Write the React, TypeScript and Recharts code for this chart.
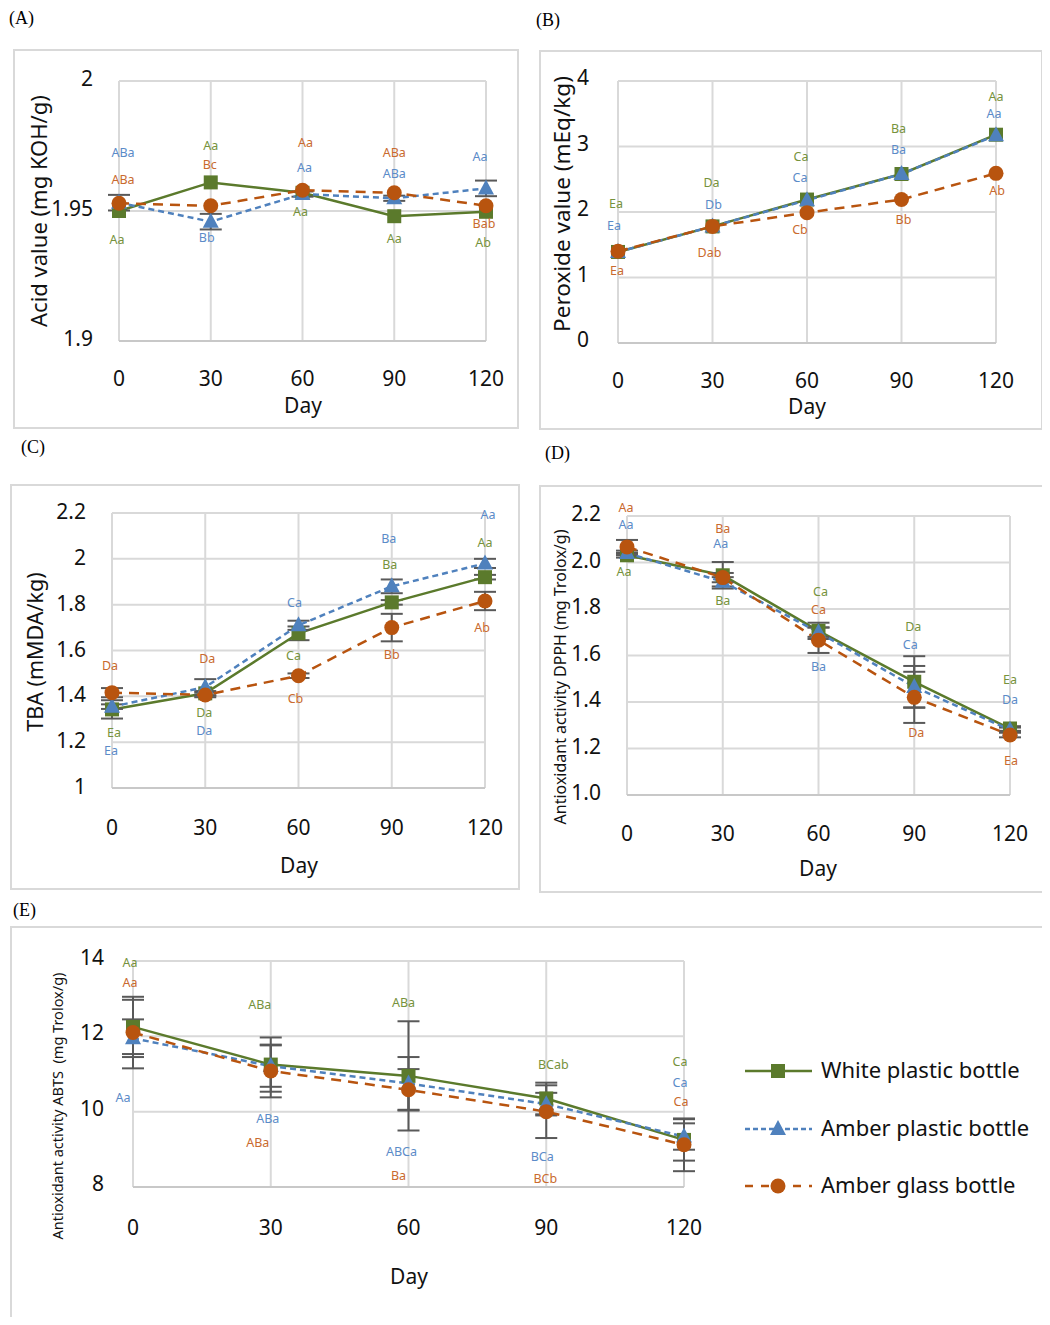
import React from 'react';
import { LineChart, Line, XAxis, YAxis, CartesianGrid, ErrorBar, LabelList } from 'recharts';

// storage days
const days = [0, 30, 60, 90, 120];

// (A) Acid value (mg KOH/g)
const acidWhite = [1.95, 1.961, 1.957, 1.948, 1.9497];
const acidPlastic = [1.9532, 1.9459, 1.9565, 1.9549, 1.9587];
const acidGlass = [1.953, 1.952, 1.958, 1.957, 1.952];
const acidErrPlastic = [0.003, 0.003, 0.001, 0.001, 0.003];
const acidLblWhite = ['Aa', 'Aa', 'Aa', 'Aa', 'Ab'];
const acidLblPlastic = ['ABa', 'Bb', 'Aa', 'ABa', 'Aa'];
const acidLblGlass = ['ABa', 'Bc', 'Aa', 'ABa', 'Bab'];
const acidTicks = [1.9, 1.95, 2];

// (B) Peroxide value (mEq/kg)
const pvWhite = [1.39, 1.78, 2.19, 2.58, 3.18];
const pvPlastic = [1.39, 1.78, 2.18, 2.58, 3.17];
const pvGlass = [1.4, 1.78, 1.99, 2.19, 2.59];
const pvLblWhite = ['Ea', 'Da', 'Ca', 'Ba', 'Aa'];
const pvLblPlastic = ['Ea', 'Db', 'Ca', 'Ba', 'Aa'];
const pvLblGlass = ['Ea', 'Dab', 'Cb', 'Bb', 'Ab'];
const pvTicks = [0, 1, 2, 3, 4];

// (C) TBA (mMDA/kg)
const tbaWhite = [1.343, 1.413, 1.675, 1.81, 1.92];
const tbaPlastic = [1.355, 1.44, 1.71, 1.88, 1.98];
const tbaGlass = [1.416, 1.406, 1.49, 1.7, 1.816];
const tbaErrWhite = [0.04, 0.01, 0.03, 0.01, 0.01];
const tbaErrPlastic = [0.01, 0.035, 0.02, 0.03, 0.02];
const tbaErrGlass = [0.02, 0.01, 0.01, 0.06, 0.04];
const tbaLblWhite = ['Ea', 'Da', 'Ca', 'Ba', 'Aa'];
const tbaLblPlastic = ['Ea', 'Da', 'Ca', 'Ba', 'Aa'];
const tbaLblGlass = ['Da', 'Da', 'Cb', 'Bb', 'Ab'];
const tbaTicks = [1, 1.2, 1.4, 1.6, 1.8, 2, 2.2];

// (D) DPPH (mg Trolox/g)
const dpphWhite = [2.031, 1.945, 1.706, 1.487, 1.286];
const dpphPlastic = [2.041, 1.917, 1.7, 1.465, 1.28];
const dpphGlass = [2.067, 1.935, 1.666, 1.42, 1.258];
const dpphErrWhite = [0.01, 0.057, 0.035, 0.11, 0.01];
const dpphErrPlastic = [0.01, 0.02, 0.02, 0.09, 0.01];
const dpphErrGlass = [0.03, 0.02, 0.055, 0.11, 0.01];
const dpphLblWhite = ['Aa', 'Ba', 'Ca', 'Da', 'Ea'];
const dpphLblPlastic = ['Aa', 'Aa', 'Ba', 'Ca', 'Da'];
const dpphLblGlass = ['Aa', 'Ba', 'Ca', 'Da', 'Ea'];
const dpphTicks = [1.0, 1.2, 1.4, 1.6, 1.8, 2.0, 2.2];

// (E) ABTS (mg Trolox/g)
const abtsWhite = [12.25, 11.25, 10.95, 10.35, 9.25];
const abtsPlastic = [11.95, 11.21, 10.75, 10.2, 9.34];
const abtsGlass = [12.1, 11.08, 10.58, 10.0, 9.12];
const abtsErrWhite = [0.72, 0.72, 1.45, 0.42, 0.55];
const abtsErrPlastic = [0.5, 0.55, 0.7, 0.3, 0.35];
const abtsErrGlass = [0.95, 0.7, 0.55, 0.7, 0.7];
const abtsLblWhite = ['Aa', 'ABa', 'ABa', 'BCab', 'Ca'];
const abtsLblPlastic = ['Aa', 'ABa', 'ABCa', 'BCa', 'Ca'];
const abtsLblGlass = ['Aa', 'ABa', 'Ba', 'BCb', 'Ca'];
const abtsTicks = [8, 10, 12, 14];

const FONT = '"Noto Sans", "DejaVu Sans", sans-serif';
const SERIES = [
  { key: 'white', name: 'White plastic bottle', color: '#5b7a2c', text: '#76923c', dash: undefined as string | undefined },
  { key: 'plastic', name: 'Amber plastic bottle', color: '#4f81bd', text: '#5b8bc8', dash: '6 4' },
  { key: 'glass', name: 'Amber glass bottle', color: '#b8540f', text: '#c96a2e', dash: '10 7' },
];

const Marker = ({ kind, cx, cy, color }: any) => {
  if (cx == null || cy == null) return null;
  if (kind === 0) return <rect x={cx - 7} y={cy - 7} width={14} height={14} fill={color} />;
  if (kind === 1)
    return <polygon points={`${cx},${cy - 9} ${cx + 8},${cy + 6} ${cx - 8},${cy + 6}`} fill={color} />;
  return <circle cx={cx} cy={cy} r={7.5} fill={color} />;
};

type Box = [number, number, number, number];

interface PanelProps {
  box: Box;
  chart?: Box;
  plot: Box;
  tag: string;
  tagPos: [number, number];
  values: number[][];
  errors?: (number[] | undefined)[];
  labels: string[][];
  dy: number[][];
  dx: number[][];
  ticks: number[];
  fmt: (v: number) => string;
  gap: number;
  tickDy: number;
  xTickY: number;
  dayPos: [number, number];
  yTitle: string;
  yTitlePos: [number, number];
  yTitleSize: number;
}

const Panel = (p: PanelProps) => {
  const c = p.chart ?? p.box;
  const [cl, ct, cr, cb] = c;
  const [pl, pt, pr, pb] = p.plot;
  const data = days.map((d, i) => {
    const row: any = { day: d };
    SERIES.forEach((s, k) => {
      row[s.key] = p.values[k][i];
      const e = p.errors?.[k];
      if (e) row[s.key + 'Err'] = e[i];
    });
    return row;
  });
  const yw = pl - cl;
  return (
    <>
      <div
        style={{
          position: 'absolute',
          left: p.box[0],
          top: p.box[1],
          width: p.box[2] - p.box[0],
          height: p.box[3] - p.box[1],
          border: '2px solid #d9d9d9',
          boxSizing: 'border-box',
        }}
      />
      <div
        style={{
          position: 'absolute',
          left: p.tagPos[0],
          top: p.tagPos[1],
          fontFamily: '"Liberation Serif", serif',
          fontSize: 18,
          lineHeight: '20px',
        }}
      >
        {p.tag}
      </div>
      <div style={{ position: 'absolute', left: cl, top: ct }}>
        <LineChart
          width={cr - cl}
          height={cb - ct}
          data={data}
          margin={{ top: pt - ct, right: cr - pr, bottom: 0, left: 0 }}
        >
          <CartesianGrid stroke="#d9d9d9" strokeWidth={2} />
          <XAxis
            dataKey="day"
            type="number"
            domain={[0, 120]}
            ticks={days}
            height={cb - pb}
            axisLine={{ stroke: '#c8c8c8', strokeWidth: 2 }}
            tickLine={false}
            tick={(t: any) => (
              <text
                x={t.x}
                y={p.xTickY - ct}
                textAnchor="middle"
                dominantBaseline="central"
                fontFamily={FONT}
                fontSize={21}
                fill="#111"
              >
                {t.payload.value}
              </text>
            )}
          />
          <YAxis
            type="number"
            domain={[p.ticks[0], p.ticks[p.ticks.length - 1]]}
            ticks={p.ticks}
            width={yw}
            axisLine={false}
            tickLine={false}
            allowDataOverflow
            tick={(t: any) => (
              <text
                x={yw - p.gap}
                y={t.y + p.tickDy}
                textAnchor="end"
                dominantBaseline="central"
                fontFamily={FONT}
                fontSize={21}
                fill="#111"
              >
                {p.fmt(t.payload.value)}
              </text>
            )}
          />
          {SERIES.map((s, k) => (
            <Line
              key={s.key}
              dataKey={s.key}
              type="linear"
              stroke={s.color}
              strokeWidth={2.5}
              strokeDasharray={s.dash}
              isAnimationActive={false}
              dot={(d: any) => <Marker key={`${s.key}-${d.index}`} kind={k} cx={d.cx} cy={d.cy} color={s.color} />}
              activeDot={false}
            >
              {p.errors?.[k] && (
                <ErrorBar dataKey={s.key + 'Err'} direction="y" width={11} stroke="#595959" strokeWidth={2} />
              )}
              <LabelList
                dataKey={s.key}
                content={(l: any) => (
                  <text
                    x={l.x + p.dx[k][l.index]}
                    y={l.y + p.dy[k][l.index]}
                    textAnchor="middle"
                    dominantBaseline="central"
                    fontFamily={FONT}
                    fontSize={12.5}
                    fill={s.text}
                  >
                    {p.labels[k][l.index]}
                  </text>
                )}
              />
            </Line>
          ))}
        </LineChart>
      </div>
      <div
        style={{
          position: 'absolute',
          left: p.dayPos[0] - 40,
          top: p.dayPos[1] - 10,
          width: 80,
          textAlign: 'center',
          fontFamily: FONT,
          fontSize: 21,
          lineHeight: '20px',
          color: '#111',
        }}
      >
        Day
      </div>
      <div
        style={{
          position: 'absolute',
          left: p.yTitlePos[0] - 200,
          top: p.yTitlePos[1] - 14,
          width: 400,
          textAlign: 'center',
          fontFamily: FONT,
          fontSize: p.yTitleSize,
          lineHeight: '28px',
          color: '#111',
          whiteSpace: 'pre',
          transform: 'rotate(-90deg)',
        }}
      >
        {p.yTitle}
      </div>
    </>
  );
};

const Legend = () => (
  <>
    {SERIES.map((s, k) => {
      const y = 1071 + k * 57.5;
      return (
        <div key={s.key}>
          <svg style={{ position: 'absolute', left: 740, top: y - 12 }} width={80} height={24}>
            <line
              x1={5}
              y1={12}
              x2={72}
              y2={12}
              stroke={s.color}
              strokeWidth={2.5}
              strokeDasharray={s.dash ? (k === 1 ? '5 3' : '8 8') : undefined}
            />
            <Marker kind={k} cx={38} cy={12} color={s.color} />
          </svg>
          <div
            style={{
              position: 'absolute',
              left: 821,
              top: y - 17,
              fontFamily: FONT,
              fontSize: 22,
              lineHeight: '30px',
              color: '#111',
              whiteSpace: 'nowrap',
            }}
          >
            {s.name}
          </div>
        </div>
      );
    })}
  </>
);

const fmtPlain = (v: number) => String(v);
const fmt1 = (v: number) => v.toFixed(1);

export default function App() {
  return (
    <div
      style={{
        position: 'relative',
        width: 1050,
        height: 1325,
        margin: -8,
        overflow: 'hidden',
        background: '#fff',
      }}
    >
      <Panel
        box={[13, 49, 519, 429]}
        plot={[119, 81, 486, 341]}
        tag="(A)"
        tagPos={[9, 8]}
        values={[acidWhite, acidPlastic, acidGlass]}
        errors={[undefined, acidErrPlastic, undefined]}
        labels={[acidLblWhite, acidLblPlastic, acidLblGlass]}
        dy={[
          [28, -37, 19, 22, 31],
          [-50, 16, -27, -25, -32],
          [-24, -41, -48, -40, 18],
        ]}
        dx={[
          [-2, 0, -2, 0, -3],
          [4, -4, 2, 0, -6],
          [4, -1, 3, 0, -2],
        ]}
        ticks={acidTicks}
        fmt={fmtPlain}
        gap={26}
        tickDy={-3}
        xTickY={378}
        dayPos={[303, 405]}
        yTitle="Acid value (mg KOH/g)"
        yTitlePos={[38, 211]}
        yTitleSize={22}
      />
      <Panel
        box={[539, 50, 1043, 430]}
        plot={[618, 81, 996, 343]}
        tag="(B)"
        tagPos={[536, 10]}
        values={[pvWhite, pvPlastic, pvGlass]}
        labels={[pvLblWhite, pvLblPlastic, pvLblGlass]}
        dy={[
          [-48, -44, -43, -46, -38],
          [-26, -22, -23, -25, -22],
          [19, 26, 17, 20, 17],
        ]}
        dx={[
          [-2, -1, -6, -3, 0],
          [-4, 1, -7, -3, -2],
          [-1, -3, -7, 2, 1],
        ]}
        ticks={pvTicks}
        fmt={fmtPlain}
        gap={29}
        tickDy={-4}
        xTickY={380}
        dayPos={[807, 406]}
        yTitle="Peroxide value (mEq/kg)"
        yTitlePos={[562, 204]}
        yTitleSize={22.5}
      />
      <Panel
        box={[10, 484, 520, 890]}
        plot={[112, 513, 485, 788]}
        tag="(C)"
        tagPos={[21, 437]}
        values={[tbaWhite, tbaPlastic, tbaGlass]}
        errors={[tbaErrWhite, tbaErrPlastic, tbaErrGlass]}
        labels={[tbaLblWhite, tbaLblPlastic, tbaLblGlass]}
        dy={[
          [23, 19, 22, -38, -35],
          [44, 43, -23, -48, -49],
          [-27, -36, 23, 27, 26],
        ]}
        dx={[
          [2, -1, -5, -2, 0],
          [-1, -1, -4, -3, 3],
          [-2, 2, -3, 0, -3],
        ]}
        ticks={tbaTicks}
        fmt={fmtPlain}
        gap={26}
        tickDy={-2}
        xTickY={827}
        dayPos={[299, 865]}
        yTitle="TBA (mMDA/kg)"
        yTitlePos={[35, 652]}
        yTitleSize={21.5}
      />
      <Panel
        box={[539, 485, 1048, 893]}
        plot={[627, 516, 1010, 795]}
        tag="(D)"
        tagPos={[545, 443]}
        values={[dpphWhite, dpphPlastic, dpphGlass]}
        errors={[dpphErrWhite, dpphErrPlastic, dpphErrGlass]}
        labels={[dpphLblWhite, dpphLblPlastic, dpphLblGlass]}
        dy={[
          [16, 25, -39, -55, -49],
          [-28, -38, 34, -42, -30],
          [-39, -49, -31, 35, 25],
        ]}
        dx={[
          [-3, 0, 2, -1, 0],
          [-1, -2, 0, -4, 0],
          [-1, 0, 0, 2, 1],
        ]}
        ticks={dpphTicks}
        fmt={fmt1}
        gap={26}
        tickDy={-3}
        xTickY={833}
        dayPos={[818, 868]}
        yTitle="Antioxidant activity DPPH (mg Trolox/g)"
        yTitlePos={[560, 677]}
        yTitleSize={16}
      />
      <Panel
        box={[10, 926, 1070, 1345]}
        chart={[10, 926, 720, 1300]}
        plot={[133, 961, 684, 1187]}
        tag="(E)"
        tagPos={[13, 900]}
        values={[abtsWhite, abtsPlastic, abtsGlass]}
        errors={[abtsErrWhite, abtsErrPlastic, abtsErrGlass]}
        labels={[abtsLblWhite, abtsLblPlastic, abtsLblGlass]}
        dy={[
          [-64, -60, -73, -34, -78],
          [59, 52, 68, 52, -54],
          [-50, 72, 86, 67, -43],
        ]}
        dx={[
          [-3, -11, -5, 7, -4],
          [-10, -3, -7, -4, -4],
          [-3, -13, -10, -1, -3],
        ]}
        ticks={abtsTicks}
        fmt={fmtPlain}
        gap={29}
        tickDy={-4}
        xTickY={1227}
        dayPos={[409, 1276]}
        yTitle="Antioxidant activity ABTS  (mg Trolox/g)"
        yTitlePos={[57, 1106]}
        yTitleSize={14.5}
      />
      <Legend />
    </div>
  );
}
